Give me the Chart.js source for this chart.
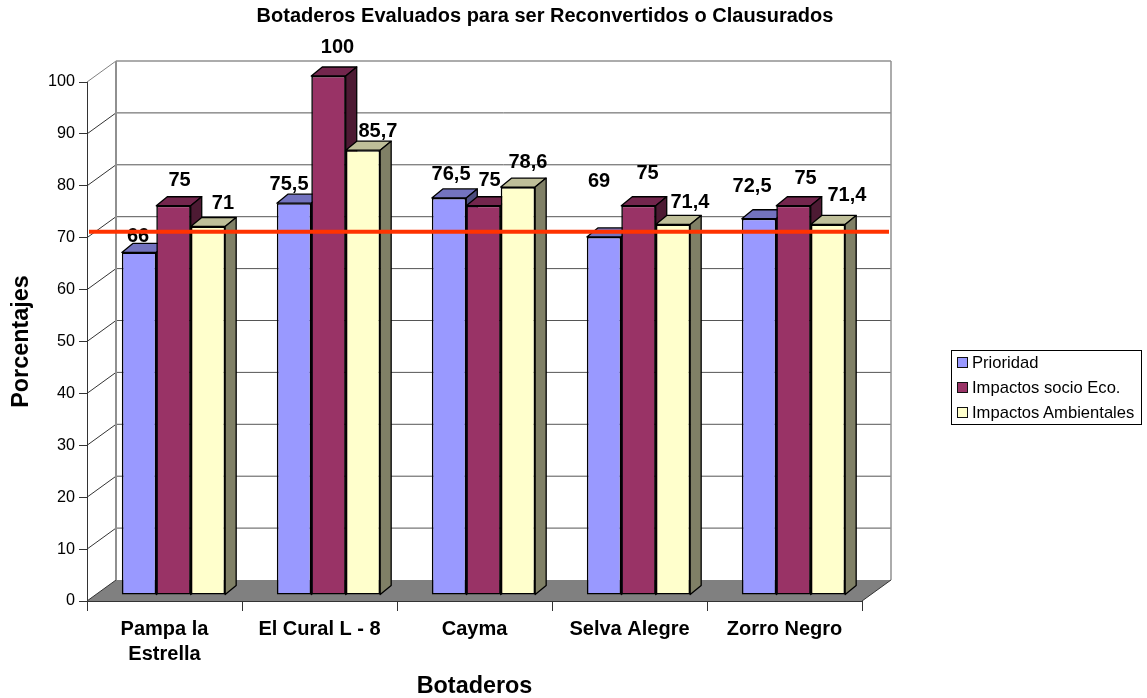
<!DOCTYPE html>
<html>
<head>
<meta charset="utf-8">
<script src="https://cdn.jsdelivr.net/npm/chart.js@4/dist/chart.umd.js"></script>
<style>
  html, body { margin: 0; background: #fff; }
  #wrap { position: relative; width: 1147px; height: 698px; }
  canvas { display: block; }
  #legend {
    position: absolute; left: 951px; top: 350px; width: 189px; height: 73px;
    border: 1px solid #000; font: 16.6px "Liberation Sans", Arial, sans-serif; color: #000;
  }
  #legend div { position: absolute; left: 20px; white-space: nowrap; line-height: 18px; }
  #legend i {
    position: absolute; left: -15px; top: 3px; width: 9px; height: 9px; border: 1.5px solid #111;
  }
</style>
</head>
<body>
<div id="wrap">
  <canvas id="chart" width="1147" height="698"></canvas>
  <div id="legend"></div>
</div>
<script>
const categories = [['Pampa la', 'Estrella'], 'El Cural L - 8', 'Cayma', 'Selva Alegre', 'Zorro Negro'];
const prioridad = [66, 75.5, 76.5, 69, 72.5];
const impactosSocio = [75, 100, 75, 75, 75];
const impactosAmbientales = [71, 85.7, 78.6, 71.4, 71.4];
const umbral = 70;

const seriesNames = ['Prioridad', 'Impactos socio Eco.', 'Impactos Ambientales'];
const seriesFront = ['#9999ff', '#993366', '#ffffcc'];
const seriesTop = ['#7373bf', '#73264d', '#bfbf99'];
const seriesSide = ['#4d4d80', '#4d1a33', '#808066'];

// label offset from the top centre of each bar, hand placed like in the original
const labelNudge = [
  [[-1, -16], [6, -25], [15, -23]],
  [[-5, -19], [9, -29], [15, -19]],
  [[2, -23], [6, -25], [10, -25]],
  [[-5, -55], [9, -32], [17, -22]],
  [[-7, -32], [12, -27], [19, -29]]
];

const WALL_X = 29, WALL_Y = -21;   // depth of the back wall
const BAR_X = 9, BAR_Y = -6;       // bars stand part way into the floor
const DEPTH_X = 11, DEPTH_Y = -9;  // depth of a bar
const FONT = '"Liberation Sans", Arial, sans-serif';

function poly(ctx, pts, fill, stroke, lw) {
  ctx.beginPath();
  pts.forEach((p, i) => i ? ctx.lineTo(p[0], p[1]) : ctx.moveTo(p[0], p[1]));
  ctx.closePath();
  ctx.fillStyle = fill;
  ctx.fill();
  if (stroke) {
    ctx.strokeStyle = stroke;
    ctx.lineWidth = lw;
    ctx.stroke();
  }
}

function seg(ctx, x1, y1, x2, y2, color, lw) {
  ctx.beginPath();
  ctx.moveTo(x1, y1);
  ctx.lineTo(x2, y2);
  ctx.strokeStyle = color;
  ctx.lineWidth = lw;
  ctx.stroke();
}

const fake3d = {
  id: 'fake3d',
  afterLayout(chart) {
    // the title is not centred on the plot or on the canvas
    chart.titleBlock.left = 0;
    chart.titleBlock.right = 1090;
  },
  beforeDatasetsDraw(chart) {
    const ctx = chart.ctx;
    const { left, right, top, bottom } = chart.chartArea;
    const yScale = chart.scales.y;
    ctx.save();

    // floor
    poly(ctx, [[left, bottom], [left + WALL_X, bottom + WALL_Y], [right + WALL_X, bottom + WALL_Y], [right, bottom]], '#808080');

    // back wall lines
    yScale.ticks.forEach(t => {
      const y = yScale.getPixelForValue(t.value);
      seg(ctx, left, y, left + WALL_X, y + WALL_Y, t.value === 100 ? '#808080' : '#333', 1);
      if (t.value > 0) {
        seg(ctx, left + WALL_X, y + WALL_Y, right + WALL_X, y + WALL_Y, t.value === 100 ? '#909090' : '#555', t.value === 100 ? 1.5 : 1);
      }
    });
    seg(ctx, left + WALL_X, top + WALL_Y, left + WALL_X, bottom + WALL_Y, '#909090', 2);
    seg(ctx, right + WALL_X, top + WALL_Y, right + WALL_X, bottom + WALL_Y, '#909090', 1.5);
    seg(ctx, right, bottom, right + WALL_X, bottom + WALL_Y, '#333', 1);
    ctx.restore();

    // bars, one series after the other so each one covers the side of the previous
    ctx.save();
    ctx.translate(BAR_X, BAR_Y);
    ctx.lineJoin = 'round';
    chart.data.datasets.forEach((ds, i) => {
      chart.getDatasetMeta(i).data.forEach(bar => {
        const l = bar.x - bar.width / 2, r = bar.x + bar.width / 2;
        poly(ctx, [[l, bar.y], [r, bar.y], [r + DEPTH_X, bar.y + DEPTH_Y], [l + DEPTH_X, bar.y + DEPTH_Y]], seriesTop[i], '#000', 1.3);
        poly(ctx, [[r, bar.y], [r + DEPTH_X, bar.y + DEPTH_Y], [r + DEPTH_X, bar.base + DEPTH_Y], [r, bar.base]], seriesSide[i], '#000', 1.3);
        bar.draw(ctx);
      });
    });
    ctx.restore();
  },
  beforeDatasetDraw() {
    return false; // already drawn above
  },
  afterDatasetsDraw(chart) {
    const ctx = chart.ctx;

    // value labels
    ctx.save();
    ctx.font = 'bold 20px ' + FONT;
    ctx.fillStyle = '#000';
    ctx.textAlign = 'center';
    ctx.textBaseline = 'middle';
    chart.data.datasets.forEach((ds, i) => {
      chart.getDatasetMeta(i).data.forEach((bar, c) => {
        const nudge = labelNudge[c][i];
        const txt = String(ds.data[c]).replace('.', ',');
        ctx.fillText(txt, bar.x + BAR_X + nudge[0], bar.y + BAR_Y + nudge[1]);
      });
    });
    ctx.restore();

    // threshold line across the bars
    const { left, right } = chart.chartArea;
    const y = chart.scales.y.getPixelForValue(umbral) + BAR_Y;
    ctx.save();
    seg(ctx, left + 2, y, right + WALL_X - 2, y, '#ff3300', 4);
    ctx.restore();
  }
};

const seriesValues = [prioridad, impactosSocio, impactosAmbientales];

new Chart(document.getElementById('chart'), {
  type: 'bar',
  data: {
    labels: categories,
    datasets: seriesValues.map((values, i) => ({
      label: seriesNames[i],
      data: values,
      backgroundColor: seriesFront[i],
      borderColor: '#000',
      borderWidth: 1.6,
      borderSkipped: false,
      categoryPercentage: 2 / 3,
      barPercentage: 1
    }))
  },
  options: {
    responsive: false,
    animation: false,
    layout: { padding: { right: 285 } },
    plugins: {
      legend: { display: false },
      tooltip: { enabled: false },
      title: {
        display: true,
        text: 'Botaderos Evaluados para ser Reconvertidos o Clausurados',
        color: '#000',
        font: { family: FONT, size: 20, weight: 'bold' },
        padding: { top: 4, bottom: 54 }
      }
    },
    scales: {
      x: {
        afterFit: s => { s.height = 97; },
        grid: { drawOnChartArea: false, tickLength: 10, color: '#333', offset: true },
        border: { color: '#333', width: 1 },
        ticks: {
          color: '#000',
          maxRotation: 0,
          autoSkip: false,
          padding: 6,
          font: { family: FONT, size: 20, weight: 'bold', lineHeight: 1.25 }
        },
        title: {
          display: true,
          text: 'Botaderos',
          color: '#000',
          font: { family: FONT, size: 23.4, weight: 'bold', lineHeight: 1 },
          padding: { top: 0, bottom: 0 }
        }
      },
      y: {
        min: 0,
        max: 100,
        afterFit: s => { s.width = 87; },
        grid: { drawOnChartArea: false, tickLength: 8, color: '#333' },
        border: { color: '#333', width: 1 },
        ticks: {
          stepSize: 10,
          color: '#000',
          padding: 4,
          font: { family: FONT, size: 16.2 }
        },
        title: {
          display: true,
          text: 'Porcentajes',
          color: '#000',
          font: { family: FONT, size: 23.4, weight: 'bold', lineHeight: 1 },
          padding: { top: 10, bottom: 0 }
        }
      }
    }
  },
  plugins: [fake3d]
});

// legend box
const legendBox = document.getElementById('legend');
seriesNames.forEach((name, i) => {
  const row = document.createElement('div');
  row.style.top = (3 + i * 25) + 'px';
  row.innerHTML = '<i style="background:' + seriesFront[i] + '"></i>' + name;
  legendBox.appendChild(row);
});
</script>
</body>
</html>
